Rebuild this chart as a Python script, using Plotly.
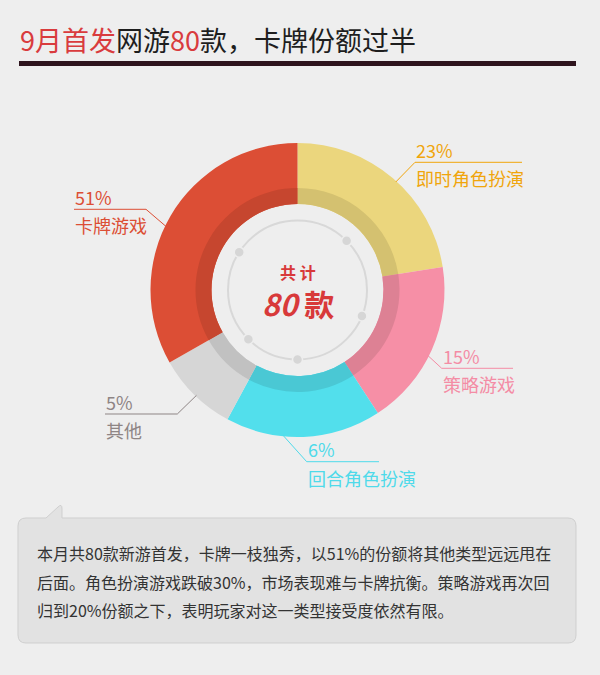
import math
import plotly.graph_objects as go

# 分类（顺时针，从12点方向开始）
categories = ["即时角色扮演", "策略游戏", "回合角色扮演", "其他", "卡牌游戏"]
# 图上标注的份额
pct_labels = [23, 15, 6, 5, 51]
# 图中扇区实际画出的大小（原图并未按比例绘制，按扇区角度读出）
drawn_shares = [22.5, 18.3, 17.1, 8.9, 33.2]

colors = ["#EBD67D", "#F68FA6", "#52DFEC", "#D6D6D6", "#DC4E35"]
band_colors = ["#D4C170", "#DD8194", "#4AC8D4", "#C1C1C1", "#C6462F"]
label_colors = ["#F0A50C", "#F48CA5", "#4FDAEA", "#8E8585", "#DC4E35"]

title_parts = [("9月首发", "#D93B3D"), ("网游", "#1E1E1E"), ("80", "#D93B3D"),
               ("款，卡牌份额过半", "#1E1E1E")]
note_lines = [
    "本月共80款新游首发，卡牌一枝独秀，以51%的份额将其他类型远远甩在",
    "后面。角色扮演游戏跌破30%，市场表现难与卡牌抗衡。策略游戏再次回",
    "归到20%份额之下，表明玩家对这一类型接受度依然有限。",
]

W, H = 600, 675
CX, CY = 297.5, 290
R_OUT, R_BAND, R_HOLE = 147, 102, 86
FONT = "Noto Sans CJK SC, Noto Sans, sans-serif"


def px(x):
    return x / W


def py(y):
    return 1 - y / H


def domain(r):
    return dict(x=[px(CX - r), px(CX + r)], y=[py(CY + r), py(CY - r)])


fig = go.Figure()

# 外环
fig.add_trace(go.Pie(
    labels=categories, values=drawn_shares, sort=False, direction="clockwise",
    rotation=0, hole=R_HOLE / R_OUT, domain=domain(R_OUT),
    marker=dict(colors=colors, line=dict(width=0)),
    textinfo="none", hoverinfo="skip", showlegend=False,
))
# 内侧深色带
fig.add_trace(go.Pie(
    labels=categories, values=drawn_shares, sort=False, direction="clockwise",
    rotation=0, hole=R_HOLE / R_BAND, domain=domain(R_BAND),
    marker=dict(colors=band_colors, line=dict(width=0)),
    textinfo="none", hoverinfo="skip", showlegend=False,
))

shapes = []
annotations = []

# 标题和下划线
title_html = "".join(f"<span style='color:{c}'>{t}</span>" for t, c in title_parts)
annotations.append(dict(x=px(18), y=py(39), xref="paper", yref="paper", text=title_html,
                        showarrow=False, xanchor="left", yanchor="middle",
                        font=dict(family=FONT, size=27)))
shapes.append(dict(type="rect", xref="paper", yref="paper", x0=px(19), x1=px(576),
                   y0=py(61), y1=py(66), fillcolor="#2E141D", line=dict(width=0)))

# 中心的细圆环和小圆点
rr = 69.5
shapes.append(dict(type="circle", xref="paper", yref="paper",
                   x0=px(CX - rr), x1=px(CX + rr), y0=py(CY + rr), y1=py(CY - rr),
                   line=dict(color="#D8D8D8", width=2)))
for a in [45, 112, 180, 225, 303]:
    t = math.radians(a)
    dx, dy = CX + rr * math.sin(t), CY - rr * math.cos(t)
    shapes.append(dict(type="circle", xref="paper", yref="paper",
                       x0=px(dx - 5), x1=px(dx + 5), y0=py(dy + 5), y1=py(dy - 5),
                       fillcolor="#D6D6D6", line=dict(color="#EEEEEE", width=1.5)))

annotations.append(dict(x=px(CX), y=py(272), xref="paper", yref="paper", text="<b>共 计</b>",
                        showarrow=False, font=dict(family=FONT, size=16, color="#D8393A")))
annotations.append(dict(x=px(CX), y=py(303), xref="paper", yref="paper", text="<b><i>80</i> 款</b>",
                        showarrow=False, font=dict(family=FONT, size=30, color="#D8393A")))

# 引线：起点角度、折点、水平线另一端
leaders = [
    (42.3, (415, 162.3), 522),
    (116.7, (441.7, 368.3), 513),
    (185.7, (306.7, 461.7), 379),
    (223.8, (177.3, 414), 105),
    (295.8, (146, 209.3), 74),
]
for i, (ang, (ex, ey), endx) in enumerate(leaders):
    t = math.radians(ang)
    sx, sy = CX + (R_OUT - 1) * math.sin(t), CY - (R_OUT - 1) * math.cos(t)
    path = f"M {px(sx)},{py(sy)} L {px(ex)},{py(ey)} L {px(endx)},{py(ey)}"
    shapes.append(dict(type="path", xref="paper", yref="paper", path=path,
                       line=dict(color=label_colors[i], width=1)))
    tx = min(ex, endx)
    annotations.append(dict(x=px(tx - 1), y=py(ey - 12.5), xref="paper", yref="paper",
                            text=f"{pct_labels[i]}%", showarrow=False, xanchor="left",
                            yanchor="middle", font=dict(family=FONT, size=18, color=label_colors[i])))
    annotations.append(dict(x=px(tx - 1), y=py(ey + 16), xref="paper", yref="paper",
                            text=categories[i], showarrow=False, xanchor="left",
                            yanchor="middle", font=dict(family=FONT, size=18, color=label_colors[i])))

# 说明气泡
box = ("M 26,518 L 46,518 L 58,507 Q 62,503 62,509 L 62,518 L 568,518 Q 576,518 576,526 "
       "L 576,635 Q 576,643 568,643 L 26,643 Q 18,643 18,635 L 18,526 Q 18,518 26,518 Z")
# 把像素路径换成 paper 坐标
tokens = []
for tok in box.split(" "):
    if "," in tok:
        a, b = tok.split(",")
        tokens.append(f"{px(float(a))},{py(float(b))}")
    else:
        tokens.append(tok)
shapes.append(dict(type="path", xref="paper", yref="paper", path=" ".join(tokens),
                   fillcolor="#E2E2E2", line=dict(color="#CFCFCF", width=1), layer="below"))

for k, line in enumerate(note_lines):
    annotations.append(dict(x=px(35), y=py(553 + k * 28.5), xref="paper", yref="paper",
                            text=line, showarrow=False, xanchor="left", yanchor="middle",
                            font=dict(family=FONT, size=16, color="#333333")))

fig.update_layout(
    width=W, height=H, margin=dict(l=0, r=0, t=0, b=0),
    paper_bgcolor="#EEEEEE", plot_bgcolor="#EEEEEE",
    shapes=shapes, annotations=annotations, showlegend=False,
)

# 去掉页面默认的 8px 边距
fig.write_html("out.html", config={"displayModeBar": False},
               post_script="document.body.style.margin='0';"
                           "document.body.style.overflow='hidden';")
